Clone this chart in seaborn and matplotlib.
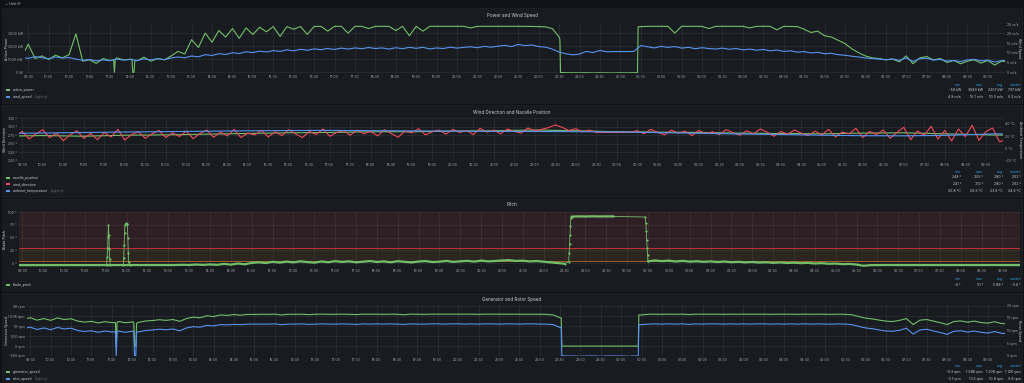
import numpy as np
import pandas as pd
import matplotlib
matplotlib.use("Agg")
import matplotlib.pyplot as plt
import seaborn as sns
from matplotlib.patches import Rectangle
from matplotlib.ticker import FuncFormatter

# ------------------------------------------------------------------
# data, 10 min samples 09:20 -> 09:30 next day
# time values are hours since midnight of the first day
# ------------------------------------------------------------------
t10 = np.round(9 + 20 / 60 + np.arange(146) / 6, 4)

active_power = [
    1150, 2150, 1050, 1250, 980, 1300, 1100, 1350, 2950, 850, 950, 680, 1050,   # 09:20-11:20
    900, 1100, 950, 1000, 880, 1150, 850, 1050, 950,                            # 11:30-12:50
    1250, 1600, 1400, 2500, 1900, 3000, 2300, 3200, 2700, 3350, 2600, 3400,     # 13:00-14:50
    2900, 3450, 3100, 3500, 2750, 3500,                                         # 15:00
    3300, 3510, 2900, 3510, 3520, 3150,                                         # 16:00
    3520, 3520, 3000, 3520, 3520, 3350,                                         # 17:00
    3520, 3520, 3520, 3200, 3520, 2800,                                         # 18:00
    3520, 3150, 3520, 3520, 3520, 3520,                                         # 19:00
    3520, 3520, 3400, 3520, 3520, 3520,                                         # 20:00
    3520, 3520, 3520, 3520, 3520, 3510,                                         # 21:00
    3500, 3480, 3350, 2700,                                                     # 22:00-22:30
    -40, -45, -50, -40, -55, -45, -50, -58, -45, -50, -40,                      # 22:40-00:20
    3500, 3520, 3520,                                                           # 00:30
    3520, 3520, 3000, 3520, 3520, 3520,                                         # 01:00
    3520, 3350, 3520, 3520, 3520, 3520,                                         # 02:00
    3520, 3400, 3520, 3520, 3520, 3250,                                         # 03:00
    3520, 3510, 3500, 3300, 3050, 3150,                                         # 04:00
    2800, 2700, 2450, 2200, 1800, 1500,                                         # 05:00
    1250, 1100, 1050, 950, 1000, 800,                                           # 06:00
    1250, 650, 1100, 1200, 950, 1050,                                           # 07:00
    750, 900, 650, 850, 950, 700,                                               # 08:00
    900, 550, 850, 797,                                                         # 09:00
]
wind_speed = [
    7.8, 7.2, 8.1, 7.5, 7.0, 7.9, 7.4, 7.6, 6.8, 6.2, 6.6, 5.9, 6.4,
    6.0, 6.8, 6.3, 6.6, 6.1, 6.9, 6.4, 7.0, 6.5,
    7.4, 7.9, 7.5, 8.4, 8.0, 9.1, 8.7, 9.6, 9.2, 10.1, 9.7, 10.6, 10.2,
    10.9, 10.5, 11.2, 10.8, 11.6, 11.1, 11.9, 11.4, 12.1, 11.7, 12.3, 11.8,
    12.5, 12.0, 12.6, 12.2, 12.8, 12.3, 12.6, 12.0, 12.7, 12.2, 12.9,
    12.4, 12.9, 12.1, 12.6, 12.3, 13.0, 12.5, 12.9, 13.2, 12.7, 13.4, 13.0,
    13.5, 13.9, 13.3, 14.4, 13.8, 14.1, 13.3, 13.0, 12.0, 10.4,
    9.6, 9.0, 9.4, 10.8, 10.2, 11.3, 10.6,
    10.7, 10.7, 10.7, 10.8,
    13.8, 13.2, 12.6, 13.4, 12.9, 13.3, 12.5, 12.9, 12.2, 12.7, 12.3, 12.0,
    12.5, 11.9, 12.3, 11.6, 12.0, 11.4, 11.8, 11.1, 11.5,
    10.8, 11.1, 10.4, 10.7, 10.0, 10.3, 9.6, 9.8, 9.1, 8.8, 8.3, 7.9,
    7.4, 7.1, 6.8, 6.5, 6.9, 6.2, 7.4, 5.6, 7.0, 7.2, 6.3, 6.6,
    5.8, 6.1, 5.5, 6.4, 6.7, 5.9, 6.3, 5.3, 6.0, 6.2,
]
wind_direction = [
    272, 286, 264, 279, 291, 268, 281, 259, 276, 288, 266, 280, 262,
    283, 270, 292, 261, 277, 285, 266, 279, 289, 268, 282, 271, 287,
    265, 280, 290, 269, 284, 273, 292, 268, 281, 276, 289, 270, 285,
    274, 291, 279, 268, 286, 277, 293, 272, 283, 288, 275, 290, 279,
    286, 273, 291, 280, 269, 287, 282, 294, 276, 285, 290, 278, 292,
    283, 289, 277, 295, 284, 290, 279, 293, 286, 281, 296, 288, 292,
    297, 305, 298, 289, 294, 285, 290, 283, 283, 283, 283, 283, 284,
    288, 279, 292, 283, 276, 290, 281, 287, 274, 289, 280, 285, 277,
    291, 282, 275, 288, 279, 293, 284, 272, 286, 278, 290, 281, 274,
    287, 276, 292, 270, 284, 279, 295, 268, 286, 277, 290, 266, 283,
    298, 262, 287, 275, 301, 264, 289, 258, 293, 271, 304, 260, 285, 296, 256, 262,
]
blade_pitch = (
    [-3.6] * 22 +                                                   # 09:20-12:50
    [-3.6, -3.4, -2.9, -3.3, -2.4, -3.1,                            # 13:00
     -2.2, -3.0, -1.1, -2.6, -0.4, -1.9,                            # 14:00
     0.8, 1.9, 0.6, 2.8, 1.4, 3.3,                                  # 15:00
     1.8, 3.9, 2.4, 1.2, 3.6, 2.1,                                  # 16:00
     4.2, 2.7, 3.8, 1.9, 3.1, 4.4,                                  # 17:00
     2.6, 3.7, 2.0, 4.1, 3.0, 1.7,                                  # 18:00
     3.5, 4.3, 2.4, 3.2, 4.6, 2.8,                                  # 19:00
     3.9, 4.8, 3.3, 5.2, 3.8, 4.5,                                  # 20:00
     5.5, 6.2, 4.6, 5.1, 3.7, 4.4,                                  # 21:00
     3.1, 1.8, 0.4, -0.8] +                                         # 22:00-22:30
    [91.0, 91.5, 91.2, 91.6, 91.3, 91.5, 91.4] +                    # 22:40-23:40
    [np.nan] * 4 +                                                  # 23:50-00:20 no data
    [3.8, 5.6, 4.2,                                                 # 00:30
     5.1, 3.6, 4.7, 3.2, 4.0, 2.9,                                  # 01:00
     3.7, 2.5, 3.4, 2.2, 2.9, 1.8,                                  # 02:00
     2.6, 1.4, 2.1, 0.9, 1.7, 0.6,                                  # 03:00
     1.2, 0.2, 0.9, -0.4, 0.3, -0.9,                                # 04:00
     -0.5, -1.6, -1.2, -2.5, -4.8, -3.6] +                          # 05:00
    [-3.4] * 22                                                     # 06:00-09:30
)
generator_speed = [
    1350, 1420, 1300, 1380, 1290, 1410, 1330, 1370, 1250, 1200, 1240, 1160, 1220,
    1180, 1230, 1170, 1210, 1190, 1260, 1280, 1320, 1290,
    1330, 1240, 1380, 1450, 1420, 1520, 1480, 1560, 1540, 1580, 1550, 1590,
    1585, 1595, 1590, 1600, 1560, 1595,
    1590, 1600, 1575, 1595, 1600, 1590,
    1595, 1600, 1590, 1580, 1600, 1595,
    1600, 1590, 1600, 1595, 1570, 1600,
    1595, 1590, 1600, 1600, 1595, 1600,
    1600, 1595, 1600, 1590, 1600, 1600,
    1595, 1600, 1600, 1595, 1600, 1600,
    1595, 1590, 1560, 1420,
    -5, -3, -6, -4, -5, -9, -4, -5, -3, -6, -4,
    1560, 1595, 1600,
    1590, 1600, 1595, 1600, 1580, 1600,
    1595, 1600, 1600, 1590, 1600, 1595,
    1600, 1595, 1600, 1600, 1590, 1600,
    1595, 1600, 1590, 1600, 1595, 1600,
    1595, 1590, 1600, 1590, 1570, 1480,
    1400, 1360, 1300, 1250, 1230, 1290,
    1380, 1080, 1300, 1330, 1250, 1170,
    1080, 1230, 1260, 1200, 1250, 1180,
    1150, 1220, 1130, 1120,
]
rotor_speed = [
    10.8, 11.3, 10.4, 11.0, 10.3, 11.2, 10.6, 10.9, 10.0, 9.6, 9.9, 9.3, 9.8,
    9.4, 9.8, 9.3, 9.7, 9.5, 10.0, 10.2, 10.5, 10.3,
    10.6, 9.9, 11.0, 11.5, 11.3, 12.0, 11.8, 12.3, 12.2, 12.4, 12.3, 12.5,
    12.5, 12.5, 12.5, 12.6, 12.3, 12.5,
    12.5, 12.6, 12.4, 12.5, 12.6, 12.5,
    12.5, 12.6, 12.5, 12.4, 12.6, 12.5,
    12.6, 12.5, 12.6, 12.5, 12.4, 12.6,
    12.5, 12.5, 12.6, 12.6, 12.5, 12.6,
    12.6, 12.5, 12.6, 12.5, 12.6, 12.6,
    12.5, 12.6, 12.6, 12.5, 12.6, 12.6,
    12.5, 12.5, 12.3, 11.2,
    0.0, 0.0, -0.1, 0.0, 0.0, -0.1, 0.0, 0.0, 0.0, -0.1, 0.0,
    12.3, 12.5, 12.6,
    12.5, 12.6, 12.5, 12.6, 12.4, 12.6,
    12.5, 12.6, 12.6, 12.5, 12.6, 12.5,
    12.6, 12.5, 12.6, 12.6, 12.5, 12.6,
    12.5, 12.6, 12.5, 12.6, 12.5, 12.6,
    12.5, 12.5, 12.6, 12.5, 12.3, 11.6,
    11.0, 10.7, 10.2, 9.8, 9.7, 10.1,
    10.9, 8.6, 10.2, 10.5, 9.8, 9.2,
    8.5, 9.7, 9.9, 9.4, 9.8, 9.3,
    9.0, 9.6, 8.9, 8.8,
]

# hourly ambient temperature and nacelle position (09:00 -> 10:00 next day)
t60 = np.arange(9, 35)
ambient_temperature = [24.8, 25.3, 26.2, 27.0, 27.6, 28.3, 28.9, 29.4, 29.6, 29.2, 28.8, 28.4, 28.1,
                       27.8, 27.5, 27.2, 26.0, 24.9, 23.8, 22.9, 21.8, 21.0, 20.8, 21.5, 23.6, 24.8]
nacelle_position = [272, 274, 272, 275, 276, 278, 280, 282, 283, 285, 285, 287, 288,
                    290, 288, 285, 284, 283, 281, 280, 279, 281, 282, 279, 276, 274]

# short events between the 10 min samples (stops at 11:35 / 12:05, shutdown 22:32-00:25)
power_ev_t = [11.59, 11.61, 11.63, 12.04, 12.06, 12.09, 12.11, 22.52, 22.535, 24.42, 24.435]
power_ev_v = [950, 0, 1000, 1000, -20, 0, 900, 2500, -20, -45, 3480]
gen_ev_t = [11.59, 11.61, 11.63, 12.04, 12.06, 12.09, 12.11, 22.53, 22.545, 24.42, 24.435]
gen_ev_v = [1180, 0, 1200, 1190, 0, 0, 1150, 1400, 0, -4, 1560]
rotor_ev_v = [9.5, 0.2, 9.6, 9.6, 0.1, 0.2, 9.4, 11.2, 0.1, 0.0, 12.3]
pitch_sparse = [
    ([11.52, 11.535, 11.545, 11.555, 11.565, 11.575, 11.585, 11.595, 11.61],
     [-3.6, 12, 30, 52, 74, 55, 28, 8, -3.6]),
    ([11.92, 11.93, 11.94, 11.95, 11.96, 11.98, 12.0, 12.02, 12.03, 12.04, 12.05, 12.07],
     [-3.6, 10, 35, 60, 75, 78, 77, 76, 50, 20, 2, -3.6]),
    ([22.5, 22.6, 22.61, 22.62, 22.63, 22.64, 22.65, 22.667],
     [-0.8, 3, 20, 37, 55, 72, 88, 91]),
    ([23.667, 24.43, 24.45, 24.46, 24.47, 24.48, 24.49, 24.5],
     [91.4, 90.2, 78, 62, 45, 30, 16, 3.8]),
]

stats = {
    "p1": [["-58 kW", "3589 kW", "2207 kW", "797 kW"],
           ["4.8 m/s", "15.1 m/s", "10.3 m/s", "6.2 m/s"]],
    "p2": [["248 °", "305 °", "280 °", "262 °"],
           ["241 °", "310 °", "280 °", "262 °"],
           ["20.8 °C", "29.9 °C", "23.8 °C", "24.6 °C"]],
    "p3": [["-4 °", "91 °", "5.88 °", "-3.4 °"]],
    "p4": [["-9.3 rpm", "1.68K rpm", "1.20K rpm", "1.12K rpm"],
           ["-0.1 rpm", "13.5 rpm", "10.8 rpm", "9.8 rpm"]],
}

# ------------------------------------------------------------------
# style
# ------------------------------------------------------------------
sns.set_style("dark")
plt.rcParams["font.family"] = ["Inter", "DejaVu Sans"]

BG = "#111217"
PANEL = "#181b1f"
GRID = "#2b2e34"
TXT = "#ccccdc"
TICK = "#a4a8b0"
GREEN = "#73bf69"
BLUE = "#5794f2"
RED = "#f2495c"
HEAD = "#33a2e5"

W, H = 1024, 383
fig = plt.figure(figsize=(W / 100, H / 100), dpi=100, facecolor=BG)


def fx(x):
    return x / W


def fy(y):
    return 1 - y / H


def rect(l, t, r, b):
    return [l / W, 1 - b / H, (r - l) / W, (b - t) / H]


def merged(t, v, et, ev):
    s = pd.Series(list(v) + list(ev), index=list(t) + list(et)).sort_index()
    return s.index.values, s.values


def break_jumps(t, v, thr):
    tt, vv = [t[0]], [v[0]]
    for i in range(1, len(v)):
        if abs(v[i] - v[i - 1]) > thr:
            tt.append(np.nan)
            vv.append(np.nan)
        tt.append(t[i])
        vv.append(v[i])
    return np.array(tt), np.array(vv)


def hhmm(h, pos=None):
    m = int(round(h * 60)) % (24 * 60)
    return f"{m // 60:02d}:{m % 60:02d}"


xticks = np.arange(9.5, 33.01, 0.5)
FS = 2.5


def style_ax(ax, yticks, ylabels, ylim, grid=True):
    ax.set_facecolor("none")
    ax.set_xlim(9.42, 33.42)
    ax.set_ylim(ylim)
    ax.set_yticks(yticks)
    ax.set_yticklabels(ylabels)
    ax.set_xticks(xticks)
    ax.xaxis.set_major_formatter(FuncFormatter(hhmm))
    ax.tick_params(length=0, labelsize=FS, colors=TICK, pad=1.6)
    ax.set_xlabel("")
    ax.set_ylabel("")
    if grid:
        ax.grid(True, color=GRID, lw=0.5)
        ax.set_axisbelow(True)
    else:
        ax.grid(False)
    for s in ax.spines.values():
        s.set_visible(False)


def panel(top, bottom, title, ty):
    fig.add_artist(Rectangle((fx(2), fy(bottom)), (1020) / W, (bottom - top) / H,
                             transform=fig.transFigure, facecolor=PANEL,
                             edgecolor="#1f2227", lw=0.5, zorder=0))
    fig.text(fx(512), fy(ty), title, ha="center", va="center", color=TXT, fontsize=3.3)


def ylabel(x, yc, s, rot=90):
    fig.text(fx(x), fy(yc), s, rotation=rot, ha="center", va="center", color=TXT, fontsize=2.6)


renderer = fig.canvas.get_renderer()


def legend_row(y, name, color, right=False):
    fig.add_artist(Rectangle((fx(6), fy(y + 0.8)), 4 / W, 1.6 / H, transform=fig.transFigure,
                             facecolor=color, edgecolor="none"))
    t = fig.text(fx(13), fy(y), name, ha="left", va="center", color=TXT, fontsize=FS)
    if right:
        bb = t.get_window_extent(renderer)
        fig.text(bb.x1 / W + fx(2), fy(y), "(right-y)", ha="left", va="center",
                 color="#6e7178", fontsize=FS)


COLS = [961, 983, 1003, 1021]


def stat_block(y_head, rows_y, rows):
    for x, h in zip(COLS, ["min", "max", "avg", "current"]):
        fig.text(fx(x), fy(y_head), h, ha="right", va="center", color=HEAD, fontsize=FS)
    for y, row in zip(rows_y, rows):
        for x, s in zip(COLS, row):
            fig.text(fx(x), fy(y), s, ha="right", va="center", color=TXT, fontsize=FS)


fig.text(fx(5), fy(4), "⌄ Unit-II", ha="left", va="center", color=TXT, fontsize=2.8)

# ------------------------------------------------------------------
# panel 1: power and wind speed
# ------------------------------------------------------------------
panel(8, 103, "Power and Wind Speed", 15)
ax1 = fig.add_axes(rect(25, 24, 1005, 73))
ax1r = ax1.twinx()
pt, pv = merged(t10, active_power, power_ev_t, power_ev_v)
sns.lineplot(x=pt, y=pv, ax=ax1, color=GREEN, lw=0.8, legend=False, estimator=None)
sns.lineplot(x=t10, y=wind_speed, ax=ax1r, color=BLUE, lw=0.8, legend=False, estimator=None)
style_ax(ax1, [0, 1000, 2000, 3000], ["0 W", "1000 kW", "2000 kW", "3000 kW"], (-60, 3700))
style_ax(ax1r, [0, 5, 10, 15, 20, 25], [f"{v} m/s" for v in [0, 5, 10, 15, 20, 25]], (-0.4, 25), grid=False)
ylabel(7, 48.5, "Active Power")
ylabel(1019, 48.5, "Wind Speed", rot=270)
legend_row(90, "active_power", GREEN)
legend_row(97, "wind_speed", BLUE, right=True)
stat_block(85, [90, 97], stats["p1"])

# ------------------------------------------------------------------
# panel 2: wind direction and nacelle position
# ------------------------------------------------------------------
panel(105, 197, "Wind Direction and Nacelle Position", 112)
ax2 = fig.add_axes(rect(19, 118, 1003, 161))
ax2r = ax2.twinx()
sns.lineplot(x=t60, y=nacelle_position, ax=ax2, color=GREEN, lw=0.8, legend=False, estimator=None)
sns.lineplot(x=t10, y=wind_direction, ax=ax2, color=RED, lw=0.8, legend=False, estimator=None)
sns.lineplot(x=t60, y=ambient_temperature, ax=ax2r, color=BLUE, lw=0.8, legend=False, estimator=None)
style_ax(ax2, [200, 225, 250, 275, 300, 325], [f"{v} °" for v in [200, 225, 250, 275, 300, 325]], (200, 325))
style_ax(ax2r, [-20, 0, 20, 40], [f"{v} °C" for v in [-20, 0, 20, 40]], (-20, 49.7), grid=False)
ylabel(5, 139.5, "Wind Direction")
ylabel(1020, 139.5, "Ambient Temperature", rot=270)
legend_row(178, "nacelle_position", GREEN)
legend_row(184, "wind_direction", RED)
legend_row(191, "ambient_temperature", BLUE, right=True)
stat_block(172, [177, 184, 191], stats["p2"])

# ------------------------------------------------------------------
# panel 3: pitch
# ------------------------------------------------------------------
panel(199, 291, "Pitch", 204)
ax3 = fig.add_axes(rect(19, 212, 1020, 267))
ax3.axhspan(30, 100, color=RED, alpha=0.10, lw=0)
ax3.axhspan(5, 30, color="#ff9830", alpha=0.09, lw=0)
ax3.axhline(30, color="#e0303f", lw=0.6)
ax3.axhline(5, color="#b8692a", lw=0.6)
bt, bv = break_jumps(t10, blade_pitch, 30)
ax3.plot(bt, bv, color=GREEN, lw=1.6, solid_capstyle="round")
for st, sv in pitch_sparse:
    sns.lineplot(x=st, y=sv, ax=ax3, color=GREEN, lw=0.6, legend=False, estimator=None,
                 marker="o", markersize=1.6, markeredgewidth=0)
style_ax(ax3, [0, 25, 50, 75, 100], [f"{v} °" for v in [0, 25, 50, 75, 100]], (-7.2, 100))
ylabel(5, 239.5, "Blade Pitch")
legend_row(285, "blade_pitch", GREEN)
stat_block(279, [285], stats["p3"])

# ------------------------------------------------------------------
# panel 4: generator and rotor speed
# ------------------------------------------------------------------
panel(293, 383, "Generator and Rotor Speed", 300)
ax4 = fig.add_axes(rect(27, 305, 1005, 356))
ax4r = ax4.twinx()
gt, gv = merged(t10, generator_speed, gen_ev_t, gen_ev_v)
rt, rv = merged(t10, rotor_speed, gen_ev_t, rotor_ev_v)
sns.lineplot(x=gt, y=gv, ax=ax4, color=GREEN, lw=0.8, legend=False, estimator=None)
sns.lineplot(x=rt, y=rv, ax=ax4r, color=BLUE, lw=0.8, legend=False, estimator=None)
style_ax(ax4, [-500, 0, 500, 1000, 1500, 2000],
         ["-500 rpm", "0 rpm", "500 rpm", "1K rpm", "1.50K rpm", "2K rpm"], (-500, 2060))
style_ax(ax4r, [0, 5, 10, 15, 20], [f"{v} rpm" for v in [0, 5, 10, 15, 20]], (0, 20), grid=False)
ylabel(7, 330.5, "Generator Speed")
ylabel(1019, 330.5, "Rotor Speed", rot=270)
legend_row(372, "generator_speed", GREEN)
legend_row(379, "rotor_speed", BLUE, right=True)
stat_block(366, [372, 379], stats["p4"])

fig.savefig("out.png", dpi=100, facecolor=BG)
